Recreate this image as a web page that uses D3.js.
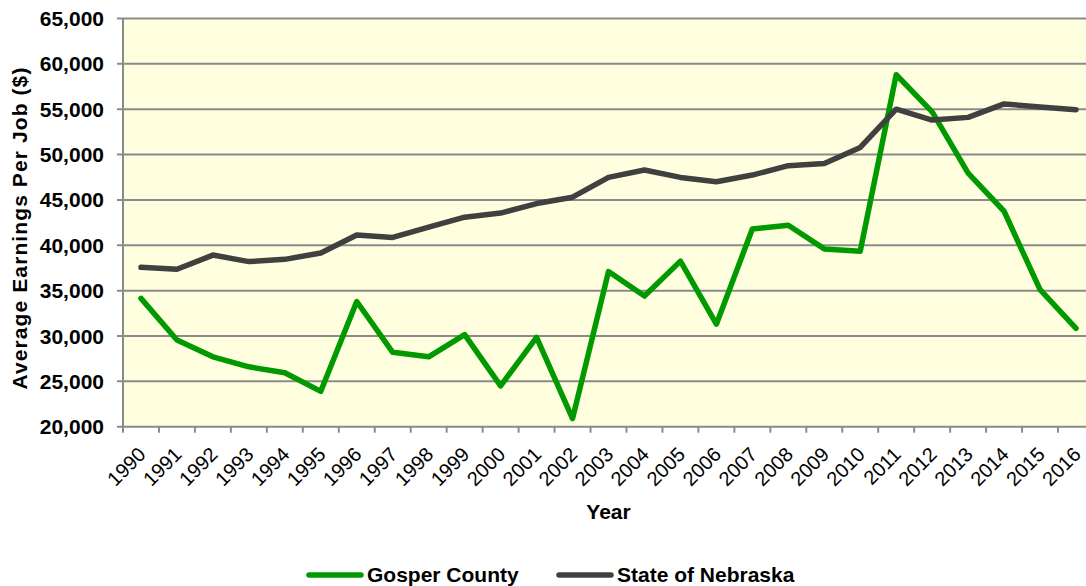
<!DOCTYPE html>
<html lang="en">
<head>
    <meta charset="UTF-8">
    <title>Average Earnings Per Job</title>
    <script src="https://d3js.org/d3.v7.min.js"></script>
    <style>
        body {
            margin: 0;
            font-family: "Liberation Sans", Arial, sans-serif;
            background: #fff;
        }
        .tick-label {
            font-size: 21px;
            font-weight: bold;
        }
        .year-label {
            font-size: 20px;
        }
        .axis-title {
            font-size: 21px;
            font-weight: bold;
        }
    </style>
</head>
<body>
    <svg width="1086" height="586"></svg>

    <script>
        const years = ["1990","1991","1992","1993","1994","1995","1996","1997","1998","1999","2000","2001","2002","2003","2004","2005","2006","2007","2008","2009","2010","2011","2012","2013","2014","2015","2016"];
        const gosper = [34150, 29550, 27700, 26600, 25950, 23900, 33800, 28200, 27700, 30150, 24500, 29850, 20900, 37100, 34400, 38250, 31300, 41800, 42200, 39600, 39350, 58800, 54700, 47950, 43750, 35100, 30850];
        const nebraska = [37570, 37350, 38920, 38200, 38450, 39150, 41130, 40870, 42000, 43100, 43550, 44600, 45300, 47480, 48300, 47480, 47000, 47740, 48780, 49020, 50780, 55000, 53800, 54100, 55580, 55250, 54950];
        const yTicks = [20000, 25000, 30000, 35000, 40000, 45000, 50000, 55000, 60000, 65000];

        const series = [
            { name: "Gosper County", values: gosper, color: "#009900" },
            { name: "State of Nebraska", values: nebraska, color: "#404040" }
        ];

        const svg = d3.select("svg");
        const plotLeft = 123, plotRight = 1094, plotTop = 18.5, plotBottom = 426.7;

        const x = d3.scaleBand().domain(years).range([plotLeft, plotRight]);
        const y = d3.scaleLinear().domain([20000, 65000]).range([plotBottom, plotTop]);
        const fmt = d3.format(",");

        // plot background
        svg.append("rect")
            .attr("x", plotLeft).attr("y", plotTop)
            .attr("width", plotRight - plotLeft).attr("height", plotBottom - plotTop)
            .attr("fill", "#ffffe0");

        // gridlines
        svg.append("g")
            .selectAll("line")
            .data(yTicks)
            .join("line")
            .attr("x1", plotLeft - 6).attr("x2", plotRight)
            .attr("y1", d => y(d)).attr("y2", d => y(d))
            .attr("stroke", "#8a8a8a")
            .attr("stroke-width", 2);

        // y axis line
        svg.append("line")
            .attr("x1", plotLeft).attr("x2", plotLeft)
            .attr("y1", plotTop).attr("y2", plotBottom)
            .attr("stroke", "#8a8a8a").attr("stroke-width", 2);

        // y tick labels
        svg.append("g")
            .selectAll("text")
            .data(yTicks)
            .join("text")
            .attr("class", "tick-label")
            .attr("x", 104)
            .attr("y", d => y(d))
            .attr("dy", "0.36em")
            .attr("text-anchor", "end")
            .text(d => fmt(d));

        // x tick marks at category boundaries
        const bounds = years.map(d => x(d)).concat([plotRight]);
        svg.append("g")
            .selectAll("line")
            .data(bounds)
            .join("line")
            .attr("x1", d => d).attr("x2", d => d)
            .attr("y1", plotBottom).attr("y2", plotBottom + 6)
            .attr("stroke", "#8a8a8a").attr("stroke-width", 2);

        // x tick labels, rotated
        svg.append("g")
            .selectAll("text")
            .data(years)
            .join("text")
            .attr("class", "year-label")
            .attr("text-anchor", "end")
            .attr("transform", d => `translate(${x(d) + x.bandwidth() / 2 + 6},${plotBottom + 29}) rotate(-45)`)
            .text(d => d);

        // lines
        const line = d3.line()
            .x((d, i) => x(years[i]) + x.bandwidth() / 2)
            .y(d => y(d));

        svg.append("g")
            .selectAll("path")
            .data(series)
            .join("path")
            .attr("d", d => line(d.values))
            .attr("fill", "none")
            .attr("stroke", d => d.color)
            .attr("stroke-width", 5.5)
            .attr("stroke-linejoin", "round")
            .attr("stroke-linecap", "round");

        // axis titles
        svg.append("text")
            .attr("class", "axis-title")
            .attr("x", (plotLeft + plotRight) / 2)
            .attr("y", 519)
            .attr("text-anchor", "middle")
            .text("Year");

        svg.append("text")
            .attr("class", "axis-title")
            .attr("transform", "translate(27,228) rotate(-90)")
            .attr("text-anchor", "middle")
            .style("letter-spacing", "1.1px")
            .text("Average Earnings Per Job ($)");

        // legend
        const legend = svg.append("g")
            .selectAll("g")
            .data(series)
            .join("g")
            .attr("transform", (d, i) => `translate(${i === 0 ? 307 : 557},575)`);

        legend.append("line")
            .attr("x1", 2).attr("x2", 54)
            .attr("stroke", d => d.color)
            .attr("stroke-width", 5.5)
            .attr("stroke-linecap", "round");

        legend.append("text")
            .attr("class", "axis-title")
            .attr("x", 60)
            .attr("y", 7)
            .text(d => d.name);
    </script>
</body>
</html>
